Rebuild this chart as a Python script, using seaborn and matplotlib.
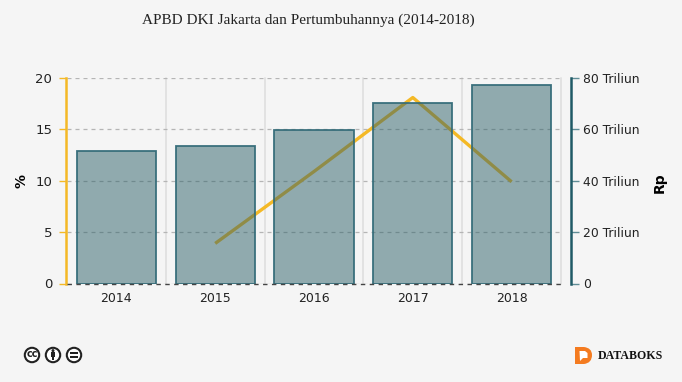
import matplotlib
matplotlib.use("Agg")
import matplotlib.pyplot as plt
from matplotlib.patches import Circle, Rectangle, PathPatch, Polygon
from matplotlib.path import Path
import seaborn as sns
import pandas as pd

years = [2014, 2015, 2016, 2017, 2018]
apbd_triliun = [51.6, 53.4, 59.6, 70.2, 77.1]
line_years = [2015, 2016, 2017, 2018]
growth_pct = [3.9, 10.9, 18.1, 9.9]
right_ticks = [0, 20, 40, 60, 80]
right_labels = ["0", "20 Triliun", "40 Triliun", "60 Triliun", "80 Triliun"]
left_ticks = [0, 5, 10, 15, 20]
title = "APBD DKI Jakarta dan Pertumbuhannya (2014-2018)"

W, H = 682, 382
BG = "#f5f5f5"
TEAL = "#1f5a66"
YEL = "#f4b926"
sns.set_theme(style="white")
plt.rcParams["font.family"] = ["DejaVu Sans"]

fig = plt.figure(figsize=(W / 100, H / 100), dpi=100, facecolor=BG)
ax = fig.add_axes([67 / W, 1 - 283.5 / H, 494 / W, 205.5 / H], facecolor=BG)

df_line = pd.DataFrame({"year": line_years, "growth": growth_pct})
df_bar = pd.DataFrame({"year": years, "apbd": apbd_triliun})

sns.lineplot(data=df_line, x="year", y="growth", ax=ax, color=YEL, lw=2.4,
             solid_capstyle="butt", zorder=3)
ax.set_xlim(2013.5, 2018.5)
ax.set_ylim(0, 20)
ax.set_yticks(left_ticks)
ax.set_xticks(years)
ax.set_xticklabels([str(y) for y in years])
ax.set_xlabel("")
ax.set_ylabel("%", fontsize=10, fontweight="bold", color="black")
ax.yaxis.set_label_coords((28 - 67) / 494, 0.5)
ax.grid(axis="y", color="#b5b5b5", ls=(0, (3.2, 3.2)), lw=0.9, zorder=1)
for x in [2014.5, 2015.5, 2016.5, 2017.5, 2018.5]:
    ax.axvline(x, color="#e0e0e0", lw=1.3, zorder=0.5, clip_on=False)
for s in ["top", "right", "bottom"]:
    ax.spines[s].set_visible(False)
ax.spines["left"].set_position(("outward", 0.7))
ax.spines["left"].set_color(YEL)
ax.spines["left"].set_linewidth(1.8)
ax.tick_params(axis="y", length=5, width=1, color=YEL, labelsize=9.5,
               labelcolor="#222222", pad=5, left=True)
ax.tick_params(axis="x", length=0, labelsize=9, labelcolor="#222222", pad=6)

ax2 = ax.twinx()
ax2.patch.set_visible(False)
sns.barplot(data=df_bar, x="year", y="apbd", ax=ax2, native_scale=True, width=0.8,
            color="#2d6169", saturation=1, edgecolor=TEAL, linewidth=1.3)
for p in ax2.patches:
    p.set_facecolor((0.176, 0.38, 0.41, 0.5))
    p.set_edgecolor((0.20, 0.42, 0.47, 0.95))
ax2.set_xlim(2013.5, 2018.5)
ax2.set_ylim(0, 80)
ax2.set_yticks(right_ticks)
ax2.set_yticklabels(right_labels)
ax2.set_xlabel("")
ax2.set_ylabel("Rp", fontsize=10, fontweight="bold", color="black")
ax2.yaxis.set_label_position("right")
ax2.yaxis.set_label_coords((653 - 67) / 494, 0.49)
ax2.yaxis.tick_right()
for s in ["top", "left", "bottom"]:
    ax2.spines[s].set_visible(False)
ax2.spines["right"].set_position(("outward", 7.5))
ax2.spines["right"].set_color(TEAL)
ax2.spines["right"].set_linewidth(1.8)
ax2.tick_params(axis="y", length=5.5, width=1, color="#5f8c95", labelsize=8.9,
                labelcolor="#222222", pad=3, right=True)

# baseline drawn over the bars
ax2.axhline(0, color="#444444", lw=1.0, ls=(0, (3.2, 3.2)), zorder=5, clip_on=False)

fig.text(308.5 / W, 1 - 20.5 / H, title, family="Liberation Serif", fontsize=11,
         color="#222222", ha="center", va="center")

# Licence icons and publisher mark, placed in pixel coordinates
over = fig.add_axes([0, 0, 1, 1], facecolor="none")
over.set_xlim(0, W)
over.set_ylim(H, 0)
over.axis("off")
for cx, sym in [(32, "cc"), (53, ""), (74, "=")]:
    over.add_patch(Circle((cx, 355), 7.2, fc="white", ec="#222222", lw=1.5))
    if sym == "cc":
        over.text(cx, 354.4, "cc", fontsize=7, fontweight="bold", ha="center",
                  va="center", color="#222222")
    elif sym == "=":
        over.add_patch(Rectangle((cx - 4, 352.4), 8, 1.8, fc="#222222", ec="none"))
        over.add_patch(Rectangle((cx - 4, 355.8), 8, 1.8, fc="#222222", ec="none"))
    else:
        over.add_patch(Circle((cx, 350.6), 1.5, fc="#222222", ec="none"))
        over.add_patch(Rectangle((cx - 2.2, 352.4), 4.4, 4.2, fc="#222222", ec="none"))
        over.add_patch(Rectangle((cx - 1.3, 356), 2.6, 4, fc="#222222", ec="none"))

verts = [(575, 347), (584, 347), (592, 348), (592, 355), (592, 363), (584, 364),
         (575, 364), (575, 347)]
codes = [Path.MOVETO, Path.LINETO, Path.CURVE3, Path.CURVE3, Path.CURVE3, Path.CURVE3,
         Path.LINETO, Path.CLOSEPOLY]
over.add_patch(PathPatch(Path(verts, codes), fc="#f47b20", ec="none"))
over.add_patch(Polygon([(579.5, 351), (585, 351), (587.5, 353), (587.5, 358), (583, 358),
                        (580, 361)], closed=True, fc="white", ec="none"))
over.text(598, 356, "DATABOKS", family="Liberation Serif", fontsize=8.6, fontweight="bold",
          color="#111111", ha="left", va="center")

fig.savefig("out.png", dpi=100, facecolor=BG)
